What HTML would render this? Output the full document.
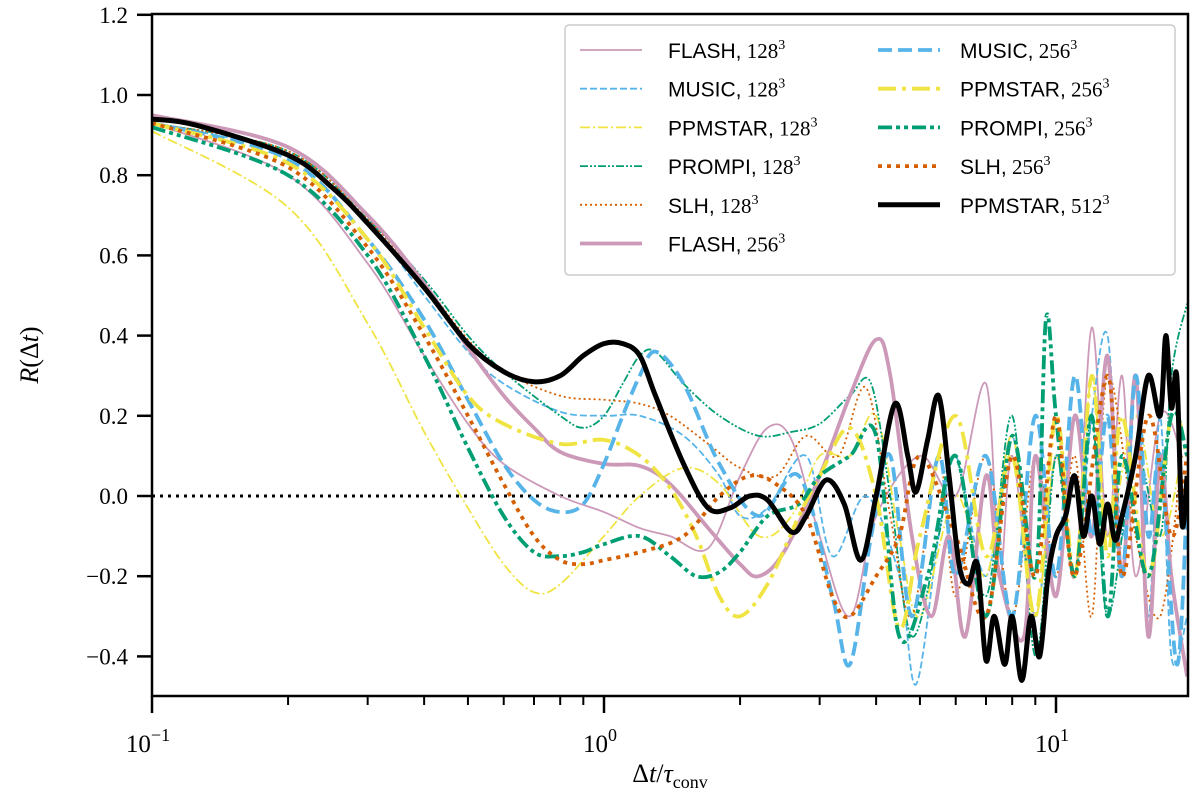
<!DOCTYPE html>
<html><head><meta charset="utf-8"><style>
body{margin:0;background:#fff}
svg text{font-family:"Liberation Serif",serif}
</style></head><body>
<svg id="chart" width="1200" height="807" xmlns="http://www.w3.org/2000/svg"></svg>
<script>
const xTicks=[0.1,1,10];
const xTickLabels=["−1","0","1"];
const yTicks=[-0.4,-0.2,0,0.2,0.4,0.6,0.8,1.0,1.2];
const yTickLabels=["−0.4","−0.2","0.0","0.2","0.4","0.6","0.8","1.0","1.2"];

const flash128X=[0.1,0.2,0.3,0.4,0.5,0.6,0.8,1.0,1.2,1.4,1.7,2.0,2.3,2.6,3.0,3.5,4.0,5,6,7,7.5,8,9,10,11,12,13,14,15,17,19];
const flash128Y=[0.93,0.8,0.58,0.35,0.18,0.08,0.0,-0.04,-0.08,-0.1,-0.13,0.05,0.17,0.14,-0.1,-0.3,-0.05,0.1,0.0,0.28,-0.2,0.1,-0.3,0.1,-0.2,0.42,-0.1,0.3,-0.2,0.2,0.1];
const music128X=[0.1,0.2,0.3,0.4,0.5,0.6,0.8,1.0,1.2,1.5,1.8,2.0,2.3,2.8,3.2,3.8,4.5,4.9,5.5,6,7,8,9,10,11,12,13,14,15,16,17,18,19.5];
const music128Y=[0.93,0.85,0.68,0.5,0.36,0.28,0.21,0.2,0.2,0.15,0.05,-0.05,-0.03,0.1,-0.15,0.0,-0.2,-0.47,-0.1,0.1,-0.2,0.15,-0.3,0.1,-0.2,0.2,0.4,-0.1,0.3,-0.3,0.2,-0.4,-0.3];
const ppm128X=[0.1,0.2,0.3,0.4,0.5,0.6,0.7,0.8,1.0,1.2,1.5,1.8,2.2,2.6,3.0,3.5,4.0,4.5,5,6,7,8,9,10,11,12,13,15,17,19];
const ppm128Y=[0.91,0.72,0.43,0.16,-0.03,-0.17,-0.24,-0.22,-0.1,0.0,0.07,0.03,-0.1,-0.05,0.1,0.1,0.2,-0.1,-0.3,0.0,-0.2,0.15,-0.3,0.1,-0.2,0.3,-0.1,0.2,-0.1,0.1];
const prompi128X=[0.1,0.2,0.3,0.4,0.5,0.6,0.8,0.9,1.0,1.1,1.2,1.3,1.5,1.8,2.2,2.6,3.0,3.5,3.9,4.3,4.8,5.5,6,7,8,9,10,11,12,13,15,17,18,19.5];
const prompi128Y=[0.93,0.86,0.69,0.54,0.4,0.31,0.2,0.17,0.2,0.28,0.35,0.36,0.28,0.2,0.15,0.16,0.18,0.25,0.28,0.0,-0.35,-0.1,0.1,-0.25,0.2,-0.4,0.1,-0.2,0.2,-0.3,0.1,-0.1,0.3,0.48];
const slh128X=[0.1,0.2,0.3,0.4,0.5,0.6,0.8,1.0,1.2,1.4,1.7,2.0,2.4,2.8,3.3,3.8,4.3,4.8,5.5,6,7,8,9,10,11,12,13,15,17,19];
const slh128Y=[0.93,0.86,0.69,0.53,0.39,0.31,0.25,0.24,0.23,0.2,0.13,0.07,0.05,0.15,0.1,0.27,-0.05,-0.3,0.1,-0.25,0.1,-0.3,0.1,-0.2,0.1,-0.3,0.3,-0.1,-0.3,0.1];
const flash256X=[0.1,0.2,0.3,0.4,0.5,0.6,0.7,0.8,1.0,1.2,1.4,1.7,2.0,2.2,2.5,3.0,3.5,4.0,4.3,4.8,5.3,5.8,6.3,7.0,7.5,8.5,9,10,11,12,13,14,15,16,17,18,19.5];
const flash256Y=[0.95,0.87,0.70,0.53,0.37,0.25,0.17,0.11,0.08,0.075,0.03,-0.08,-0.17,-0.2,-0.14,0.05,0.25,0.39,0.3,-0.1,-0.3,-0.1,-0.35,0.05,-0.2,-0.35,0.1,-0.25,0.2,-0.1,0.35,-0.2,0.3,-0.35,0.1,-0.2,-0.45];
const music256X=[0.1,0.2,0.3,0.4,0.5,0.6,0.7,0.8,0.9,1.0,1.1,1.2,1.3,1.5,1.8,2.2,2.7,3.2,3.5,3.9,4.3,4.8,5.5,6,7,8,9,10,11,12,13,14,15,16,17,18.5,19.5];
const music256Y=[0.93,0.84,0.64,0.44,0.24,0.08,-0.01,-0.04,-0.02,0.08,0.2,0.3,0.36,0.28,0.08,-0.05,0.05,-0.25,-0.42,-0.1,0.1,-0.3,0.1,-0.2,0.1,-0.3,0.2,-0.2,0.3,-0.1,0.2,-0.2,0.3,-0.1,0.1,-0.42,0.0];
const ppm256X=[0.1,0.2,0.3,0.4,0.5,0.6,0.8,1.0,1.2,1.4,1.6,1.8,2.0,2.3,2.7,3.0,3.5,4.0,4.5,5,6,7,8,9,10,11,12,13,14,16,18,19.5];
const ppm256Y=[0.93,0.83,0.64,0.42,0.25,0.18,0.13,0.14,0.1,0.02,-0.1,-0.25,-0.3,-0.22,-0.05,0.05,0.17,0.0,-0.33,-0.1,0.2,-0.15,0.1,-0.3,0.2,-0.2,0.3,-0.15,0.2,-0.2,0.2,0.1];
const prompi256X=[0.1,0.2,0.3,0.4,0.5,0.6,0.7,0.8,0.9,1.0,1.2,1.4,1.6,1.8,2.0,2.3,2.7,3.0,3.5,4.0,4.5,5.2,6,7,8,9,9.5,10,11,12,13,14,16,18,19.5];
const prompi256Y=[0.92,0.8,0.6,0.35,0.12,-0.05,-0.14,-0.15,-0.14,-0.12,-0.1,-0.15,-0.2,-0.19,-0.14,-0.05,-0.02,0.05,0.1,0.15,-0.35,-0.2,0.1,-0.3,0.15,-0.2,0.44,0.2,-0.2,0.2,-0.3,0.1,-0.2,0.2,0.1];
const slh256X=[0.1,0.2,0.3,0.4,0.5,0.6,0.7,0.8,0.9,1.0,1.2,1.5,1.8,2.1,2.4,2.8,3.2,3.5,4.0,4.5,5,6,7,8,9,10,11,13,14,16,18,19.5];
const slh256Y=[0.93,0.82,0.62,0.4,0.2,0.03,-0.1,-0.16,-0.17,-0.16,-0.14,-0.1,0.0,0.05,0.03,-0.05,-0.25,-0.3,-0.2,-0.1,0.1,-0.1,-0.3,0.1,-0.2,0.2,-0.2,0.3,-0.2,0.2,-0.1,0.1];
const ppm512X=[0.1,0.125,0.2,0.25,0.3,0.4,0.5,0.6,0.7,0.8,0.9,1.0,1.1,1.2,1.3,1.5,1.7,1.9,2.1,2.3,2.6,2.8,3.1,3.4,3.7,4.0,4.4,4.7,4.9,5.2,5.5,5.8,6.1,6.4,6.7,7.0,7.3,7.7,8.0,8.4,8.8,9.2,9.6,10,10.5,11,11.5,12,12.5,13,13.5,14,15,16,17,17.5,18,18.5,19,19.5];
const ppm512Y=[0.94,0.925,0.85,0.77,0.68,0.52,0.38,0.31,0.285,0.3,0.35,0.38,0.38,0.35,0.25,0.08,-0.03,-0.03,0.0,-0.01,-0.09,-0.05,0.04,-0.02,-0.16,0.0,0.23,0.1,0.01,0.14,0.25,0.05,-0.17,-0.22,-0.17,-0.41,-0.3,-0.42,-0.3,-0.46,-0.3,-0.4,-0.2,-0.1,-0.05,0.05,-0.1,0.0,-0.12,-0.02,-0.11,-0.05,0.1,0.3,0.2,0.4,0.22,0.3,-0.07,0.05];

const NS="http://www.w3.org/2000/svg";
const svg=document.getElementById('chart');
const L=152,R=1188,T=14,B=696;
const xs=v=>L+(Math.log10(v)+1)*452;
const ys=v=>496-v*401;
function el(tag,attrs,parent){const e=document.createElementNS(NS,tag);for(const k in attrs)e.setAttribute(k,attrs[k]);(parent||svg).appendChild(e);return e;}

const clip=el('clipPath',{id:'pc'});el('rect',{x:L,y:T,width:R-L,height:B-T},clip);
const plot=el('g',{'clip-path':'url(#pc)'});



const zl=el('line',{x1:L,x2:R,y1:ys(0),y2:ys(0),stroke:'#000','stroke-width':3,'stroke-dasharray':'3,5'},plot);



function pathD(X,Y){
  const P=X.map((x,i)=>[xs(x),ys(Y[i])]);
  let d='M'+P[0][0]+','+P[0][1];
  for(let i=0;i<P.length-1;i++){
    const p0=P[i-1]||P[i],p1=P[i],p2=P[i+1],p3=P[i+2]||p2;
    const c1=[p1[0]+(p2[0]-p0[0])/6,p1[1]+(p2[1]-p0[1])/6];
    const c2=[p2[0]-(p3[0]-p1[0])/6,p2[1]-(p3[1]-p1[1])/6];
    d+=`C${c1[0]},${c1[1]} ${c2[0]},${c2[1]} ${p2[0]},${p2[1]}`;
  }
  return d;
}
const PINK='#cc99b8',BLUE='#56b4e9',YEL='#f0e442',GRN='#009e73',ORG='#d55e00';
const series=[
 {n:'FLASH',r:'128',X:flash128X,Y:flash128Y,c:PINK,w:1.8,d:'',col:0,row:0},
 {n:'MUSIC',r:'128',X:music128X,Y:music128Y,c:BLUE,w:1.8,d:'7,3',col:0,row:1},
 {n:'PPMSTAR',r:'128',X:ppm128X,Y:ppm128Y,c:YEL,w:1.8,d:'10,3,2,3',col:0,row:2},
 {n:'PROMPI',r:'128',X:prompi128X,Y:prompi128Y,c:GRN,w:1.8,d:'8,2,2,2,2,2',col:0,row:3},
 {n:'SLH',r:'128',X:slh128X,Y:slh128Y,c:ORG,w:1.8,d:'2,3',col:0,row:4},
 {n:'FLASH',r:'256',X:flash256X,Y:flash256Y,c:PINK,w:3.8,d:'',col:0,row:5},
 {n:'MUSIC',r:'256',X:music256X,Y:music256Y,c:BLUE,w:3.8,d:'14,6',col:1,row:0},
 {n:'PPMSTAR',r:'256',X:ppm256X,Y:ppm256Y,c:YEL,w:3.8,d:'18,6,4,6',col:1,row:1},
 {n:'PROMPI',r:'256',X:prompi256X,Y:prompi256Y,c:GRN,w:3.8,d:'14,4,4,4,4,4',col:1,row:2},
 {n:'SLH',r:'256',X:slh256X,Y:slh256Y,c:ORG,w:3.8,d:'4,5',col:1,row:3},
 {n:'PPMSTAR',r:'512',X:ppm512X,Y:ppm512Y,c:'#000',w:5,d:'',col:1,row:4}
];
series.forEach(s=>{
  const p=el('path',{d:pathD(s.X,s.Y),fill:'none',stroke:s.c,'stroke-width':s.w,'stroke-dasharray':s.d,'stroke-linejoin':'round'},plot);
  
  
});

const fr=el('rect',{x:L,y:T,width:R-L,height:B-T,fill:'none',stroke:'#000','stroke-width':2.5});



yTicks.forEach((v,i)=>{
  el('line',{x1:L,x2:L-15,y1:ys(v),y2:ys(v),stroke:'#000','stroke-width':2.5});
  const t=el('text',{x:L-24,y:ys(v)+8,'text-anchor':'end','font-size':23});
  t.textContent=yTickLabels[i];
  
  
});
xTicks.forEach((v,i)=>{
  el('line',{x1:xs(v),x2:xs(v),y1:B,y2:B+17,stroke:'#000','stroke-width':2.5});
  const t=el('text',{x:xs(v)-4,y:B+56,'text-anchor':'middle','font-size':25});
  t.innerHTML='10<tspan dy="-11" font-size="18">'+xTickLabels[i]+'</tspan>';
  
  
});
[0.1,1,10].forEach(d=>{for(let k=2;k<=9;k++){const v=d*k;if(v<19.6){el('line',{x1:xs(v),x2:xs(v),y1:B,y2:B+9,stroke:'#000','stroke-width':2});}}});

const xt=el('text',{x:670,y:782,'text-anchor':'middle','font-size':26});
xt.innerHTML='Δ<tspan font-style="italic">t</tspan>/<tspan font-style="italic">τ</tspan><tspan dy="6" font-size="18">conv</tspan>';


const yt=el('text',{x:0,y:0,'text-anchor':'middle','font-size':26,transform:'translate(38,355) rotate(-90)'});
yt.innerHTML='<tspan font-style="italic">R</tspan>(Δ<tspan font-style="italic">t</tspan>)';



const lg=el('g',{});


el('rect',{x:565,y:25,width:610,height:250,rx:4,fill:'#fff',stroke:'#ccc','stroke-width':1.5},lg);
series.forEach(s=>{
  const g=el('g',{},lg);
  
  
  const y=50+s.row*38.7;
  const x0=s.col?878:580;
  el('line',{x1:x0,x2:x0+62,y1:y,y2:y,stroke:s.c,'stroke-width':s.w,'stroke-dasharray':s.d},g);
  const t=el('text',{x:s.col?960:668,y:y+8,'font-size':21},g);
  t.innerHTML='<tspan font-family="Liberation Sans">'+s.n+',</tspan> '+s.r+'<tspan dy="-9" font-size="14">3</tspan>';
});
</script>
</body></html>
